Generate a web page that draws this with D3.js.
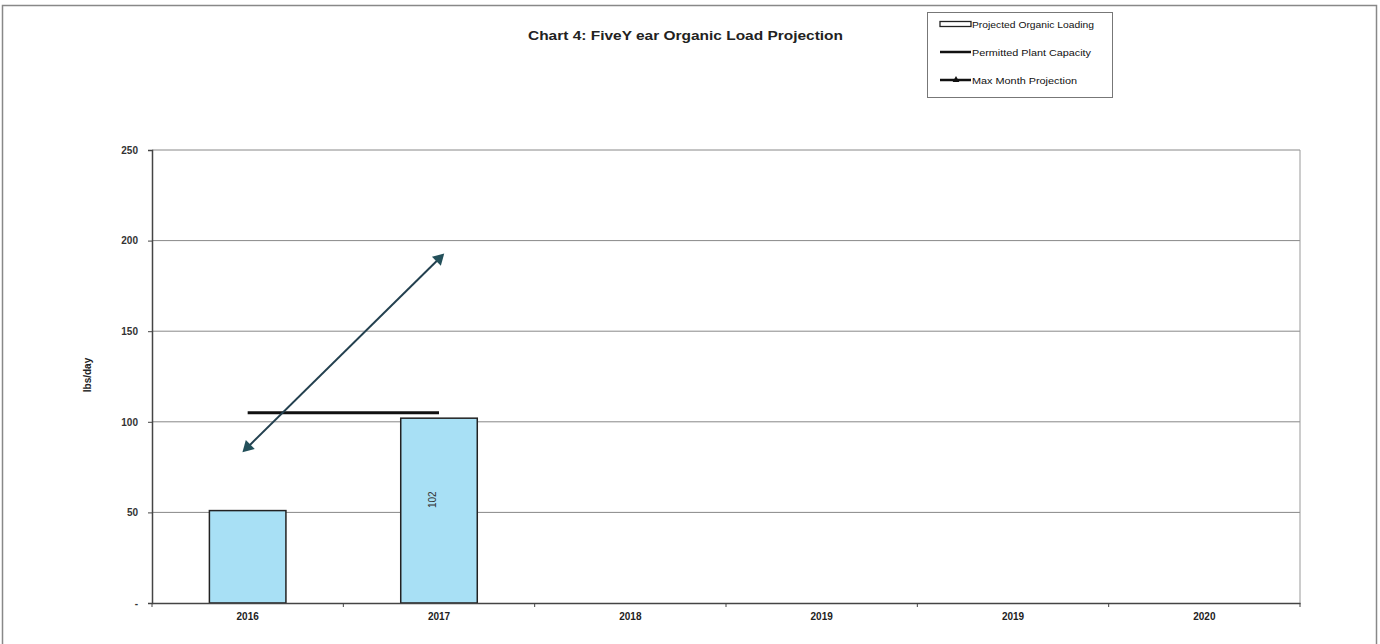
<!DOCTYPE html>
<html><head><meta charset="utf-8">
<script src="https://cdn.jsdelivr.net/npm/d3@7"></script>
<style>body{margin:0;background:#fff}svg{display:block;font-family:Arial,"Liberation Sans",sans-serif}</style>
</head><body>
<svg id="c" width="1380" height="644"></svg>
<script>
const categories = ["2016","2017","2018","2019","2019 ","2020"];
const projectedLoading = [51, 102, null, null, null, null];
const permittedCapacity = [105, 105, null, null, null, null];
const maxMonth = [86, 190, null, null, null, null];
const yTicks = [0, 50, 100, 150, 200, 250];
const title = "Chart 4: FiveY ear Organic Load Projection";
const legendLabels = ["Projected Organic Loading","Permitted Plant Capacity","Max Month Projection"];

const svg = d3.select("#c");
const m = {l:152, r:1300, t:150, b:603};
// outer frame
svg.append("rect").attr("x",2.5).attr("y",5.5).attr("width",1374).attr("height",645)
  .attr("fill","none").attr("stroke","#888").attr("stroke-width",1.5);

const x = d3.scaleBand().domain(categories).range([m.l,m.r]).paddingInner(0.6).paddingOuter(0.3);
const xc = d => x(d) + x.bandwidth()/2;
const y = d3.scaleLinear().domain([0,250]).range([m.b,m.t]);

// gridlines
svg.append("g").selectAll("line").data(yTicks.filter(d=>d>0)).join("line")
  .attr("x1",m.l).attr("x2",m.r).attr("y1",d=>y(d)).attr("y2",d=>y(d))
  .attr("stroke","#888").attr("stroke-width",1);
// right border
svg.append("line").attr("x1",m.r).attr("x2",m.r).attr("y1",m.t).attr("y2",m.b).attr("stroke","#999");

// bars
svg.append("g").selectAll("rect").data(categories.map((c,i)=>({c,v:projectedLoading[i]})).filter(d=>d.v!=null))
  .join("rect").attr("x",d=>x(d.c)).attr("width",x.bandwidth())
  .attr("y",d=>y(d.v)).attr("height",d=>y(0)-y(d.v))
  .attr("fill","#a8e0f5").attr("stroke","#222").attr("stroke-width",1.5);
// data label
svg.append("text").attr("transform",`translate(${xc("2017")-3},${y(57)}) rotate(-90)`)
  .attr("text-anchor","middle").attr("font-size",10).attr("fill","#333").text(String(projectedLoading[1]));

// capacity line
const capData = categories.map((c,i)=>({c,v:permittedCapacity[i]})).filter(d=>d.v!=null);
svg.append("path").datum(capData).attr("d",d3.line().x(d=>xc(d.c)).y(d=>y(d.v)))
  .attr("fill","none").attr("stroke","#111").attr("stroke-width",3);

// max month line
const mmData = categories.map((c,i)=>({c,v:maxMonth[i]})).filter(d=>d.v!=null);
svg.append("path").datum(mmData).attr("d",d3.line().x(d=>xc(d.c)).y(d=>y(d.v)))
  .attr("fill","none").attr("stroke","#23404f").attr("stroke-width",2);
const ang = Math.atan2(y(mmData[1].v)-y(mmData[0].v), xc(mmData[1].c)-xc(mmData[0].c))*180/Math.PI;
svg.append("g").selectAll("path").data(mmData).join("path")
  .attr("d",d3.symbol(d3.symbolTriangle,70)())
  .attr("transform",(d,i)=>`translate(${xc(d.c)},${y(d.v)}) rotate(${i===0?ang-90:ang+90})`)
  .attr("fill","#23505a");

// y axis
const ya = svg.append("g").attr("transform",`translate(${m.l},0)`)
  .call(d3.axisLeft(y).tickValues(yTicks).tickSize(4).tickFormat(d=>d===0?"-":d));
ya.select(".domain").attr("stroke","#444").attr("stroke-width",1.5);
ya.selectAll(".tick line").attr("stroke","#444");
ya.selectAll("text").attr("font-size",10).attr("font-weight","bold").attr("fill","#333").attr("dx",-7);
// x axis
const xa = svg.append("g").attr("transform",`translate(0,${m.b})`)
  .call(d3.axisBottom(x).tickSize(0).tickSizeOuter(0));
xa.select(".domain").attr("stroke","#444").attr("stroke-width",1.5);
xa.selectAll("text").attr("font-size",10).attr("font-weight","bold").attr("fill","#222").attr("dy",14);
// boundary ticks
svg.append("g").selectAll("line").data(d3.range(categories.length+1)).join("line")
  .attr("x1",i=>m.l+i*(m.r-m.l)/categories.length).attr("x2",i=>m.l+i*(m.r-m.l)/categories.length)
  .attr("y1",m.b).attr("y2",m.b+4).attr("stroke","#444");

// y label
svg.append("text").attr("transform",`translate(91,375) rotate(-90)`).attr("text-anchor","middle")
  .attr("font-size",10).attr("font-weight","bold").attr("fill","#222").text("lbs/day");
// title
svg.append("text").attr("x",528).attr("y",40).attr("textLength",315).attr("lengthAdjust","spacingAndGlyphs")
  .attr("font-size",12.5).attr("font-weight","bold").attr("fill","#222").text(title);

// legend
const lg = svg.append("g");
lg.append("rect").attr("x",927.5).attr("y",12.5).attr("width",185).attr("height",85)
  .attr("fill","#fff").attr("stroke","#777");
const rows = [24,52,80];
lg.append("rect").attr("x",940).attr("y",rows[0]-2.5).attr("width",31).attr("height",5)
  .attr("fill","#fff").attr("stroke","#222").attr("stroke-width",1.3);
lg.append("line").attr("x1",940).attr("x2",971).attr("y1",rows[1]).attr("y2",rows[1]).attr("stroke","#111").attr("stroke-width",2.5);
lg.append("line").attr("x1",940).attr("x2",971).attr("y1",rows[2]).attr("y2",rows[2]).attr("stroke","#111").attr("stroke-width",2.5);
lg.append("path").attr("d",d3.symbol(d3.symbolTriangle,20)()).attr("transform",`translate(956,${rows[2]})`).attr("fill","#111");
const ends = [1094,1091,1077];
lg.selectAll("text.l").data(legendLabels).join("text").attr("class","l")
  .attr("x",972).attr("y",(d,i)=>rows[i]+3.5).attr("font-size",9.5).attr("fill","#111")
  .attr("textLength",(d,i)=>ends[i]-972).attr("lengthAdjust","spacingAndGlyphs").text(d=>d);
</script>
</body></html>
